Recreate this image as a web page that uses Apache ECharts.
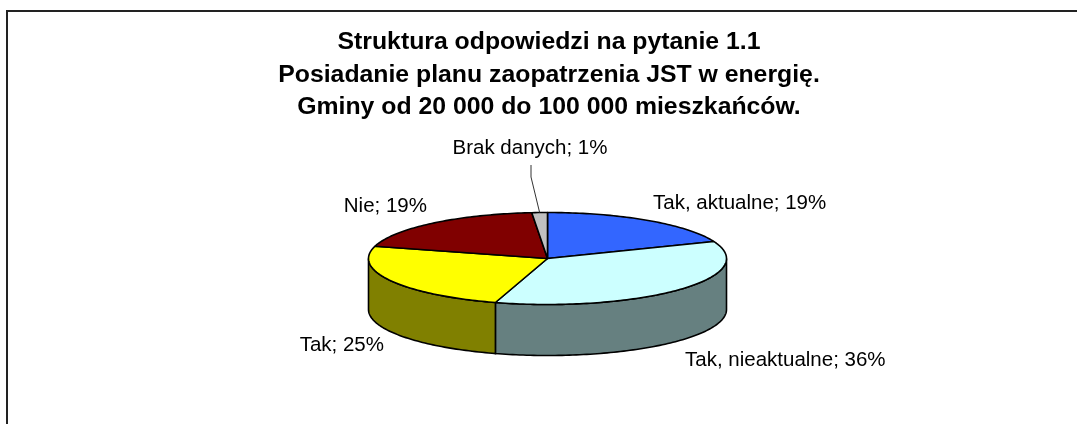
<!DOCTYPE html>
<html>
<head>
<meta charset="utf-8">
<style>html,body{margin:0;padding:0;background:#fff}#c{width:1077px;height:424px}</style>
<script src="https://cdn.jsdelivr.net/npm/echarts@6/dist/echarts.min.js"></script>
</head>
<body>
<div id="c"></div>
<script>
const titleLines = ['Struktura odpowiedzi na pytanie 1.1', 'Posiadanie planu zaopatrzenia JST w energię.', 'Gminy od 20 000 do 100 000 mieszkańców.'];
const categories = ['Tak, aktualne', 'Tak, nieaktualne', 'Tak', 'Nie', 'Brak danych'];
const values = [19, 35.7, 24.6, 19.3, 1.4];
const topColors = ['#3366FF', '#CCFFFF', '#FFFF00', '#800000', '#C0C0C0'];
const sideColors = ['#1A3380', '#668080', '#808000', '#400000', '#606060'];

const FONT = '"Liberation Sans", Arial, sans-serif';
const CX = 547.5, CY = 258.5, RX = 179, RY = 46, DEPTH = 51;
const labelAnchors = [
  {x: 653, y: 203.5, align: 'left'},
  {x: 685, y: 360, align: 'left'},
  {x: 384, y: 345.5, align: 'right'},
  {x: 427, y: 206, align: 'right'},
  {x: 452.5, y: 148.5, align: 'left'}
];
const total = values.reduce((a, b) => a + b, 0);
const frac = i => values.slice(0, i).reduce((a, b) => a + b, 0) / total * Math.PI * 2;
const pt = (a, dy) => [CX + RX * Math.sin(a), CY - RY * Math.cos(a) + (dy || 0)];

function arc(a0, a1, dy) {
  const n = Math.max(2, Math.ceil((a1 - a0) / 0.02));
  const out = [];
  for (let k = 0; k <= n; k++) out.push(pt(a0 + (a1 - a0) * k / n, dy));
  return out;
}

function renderItem(params, api) {
  const i = params.dataIndex;
  const a0 = frac(i), a1 = frac(i + 1);
  const children = [];
  const s0 = Math.max(a0, Math.PI / 2), s1 = Math.min(a1, Math.PI * 1.5);
  if (s1 > s0) {
    const upper = arc(s0, s1, 0);
    const lower = arc(s0, s1, DEPTH).reverse();
    children.push({
      type: 'polygon', z2: 1,
      shape: {points: upper.concat(lower)},
      style: {fill: sideColors[i], stroke: '#000', lineWidth: 1.6}
    });
  }
  children.push({
    type: 'polygon', z2: 2,
    shape: {points: [[CX, CY]].concat(arc(a0, a1, 0))},
    style: {fill: topColors[i], stroke: '#000', lineWidth: 1.6, lineJoin: 'round'}
  });
  const la = labelAnchors[i];
  children.push({
    type: 'text', z2: 3,
    style: {
      x: la.x, y: la.y, text: categories[i] + '; ' + Math.round(values[i]) + '%',
      fill: '#000', font: '20.5px ' + FONT, align: la.align, verticalAlign: 'middle'
    }
  });
  if (i === 4) {
    const mid = pt((a0 + a1) / 2);
    children.push({
      type: 'polyline', z2: 3,
      shape: {points: [[531, 165], [531, 177], mid]},
      style: {fill: null, stroke: '#333', lineWidth: 1}
    });
  }
  return {type: 'group', children};
}

const chart = echarts.init(document.getElementById('c'), null, {renderer: 'canvas'});
chart.setOption({
  animation: false,
  backgroundColor: '#fff',
  title: {
    text: titleLines.join('\n'),
    left: 544, top: 21, textAlign: 'center',
    textStyle: {fontFamily: FONT, fontSize: 24.8, fontWeight: 'bold', color: '#000', lineHeight: 32.5}
  },
  graphic: [{
    type: 'polyline', silent: true,
    shape: {points: [[7, 424], [7, 11], [1077, 11]]},
    style: {fill: null, stroke: '#222', lineWidth: 2}
  }],
  series: [{
    type: 'custom',
    coordinateSystem: 'none',
    renderItem,
    data: categories.map((name, i) => ({name, value: values[i]}))
  }]
});
</script>
</body>
</html>
